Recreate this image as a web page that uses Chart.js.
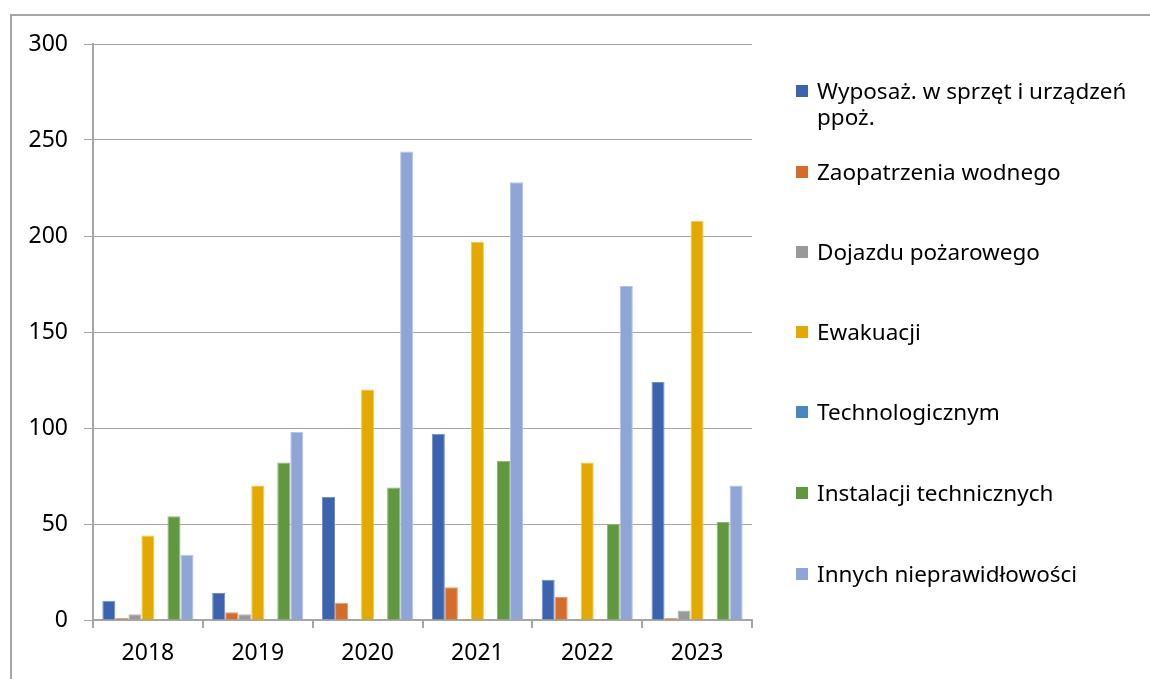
<!DOCTYPE html>
<html>
<head>
<meta charset="utf-8">
<script src="https://cdn.jsdelivr.net/npm/chart.js@4"></script>
<style>
  html, body { margin: 0; padding: 0; background: #fff; }
  #wrap { position: relative; width: 1150px; height: 679px; overflow: hidden; }
  #frame { position: absolute; left: 10px; top: 14px; width: 1200px; height: 700px;
           border-top: 2px solid #a6a6a6; border-left: 2px solid #a6a6a6; }
  #chart { position: absolute; left: 0; top: 0; }
  #legend { position: absolute; left: 796px; top: 0; font-family: "Noto Sans", sans-serif;
            font-size: 22.5px; color: #000; }
  .item { position: absolute; left: 0; white-space: nowrap; line-height: 26px; }
  .box { position: absolute; left: 0; top: 7px; width: 12px; height: 12px; }
  .txt { position: absolute; left: 21px; top: 0; }
</style>
</head>
<body>
<div id="wrap">
  <div id="frame"></div>
  <canvas id="chart" width="1150" height="679"></canvas>
  <div id="legend"></div>
</div>
<script>
const years = ['2018', '2019', '2020', '2021', '2022', '2023'];

const seriesNames = [
    ['Wyposaż. w sprzęt i urządzeń', 'ppoż.'],
    'Zaopatrzenia wodnego',
    'Dojazdu pożarowego',
    'Ewakuacji',
    'Technologicznym',
    'Instalacji technicznych',
    'Innych nieprawidłowości'
];

const wyposazenie = [10, 14, 64, 97, 21, 124];
const zaopatrzenie = [1, 4, 9, 17, 12, 1];
const dojazd = [3, 3, 0, 0, 0, 5];
const ewakuacja = [44, 70, 120, 197, 82, 208];
const technologiczne = [0, 0, 0, 0, 0, 0];
const instalacje = [54, 82, 69, 83, 50, 51];
const inne = [34, 98, 244, 228, 174, 70];

const yTicks = [0, 50, 100, 150, 200, 250, 300];

const colors = ['#3c64ae', '#d46d29', '#999999', '#e3a900', '#4a87c1', '#60983f', '#8fa5d6'];
const borders = ['#6f8fcb', '#eb9a66', '#b8b8b8', '#f2c94d', '#7aa9d6', '#8ab872', '#b3c3e8'];

const values = [wyposazenie, zaopatrzenie, dojazd, ewakuacja, technologiczne, instalacje, inne];

const datasets = values.map((v, i) => ({
    label: Array.isArray(seriesNames[i]) ? seriesNames[i].join(' ') : seriesNames[i],
    data: v,
    backgroundColor: colors[i],
    borderColor: borders[i],
    borderWidth: 1,
    categoryPercentage: 0.83,
    barPercentage: 1.0
}));

const tickFont = { family: 'Noto Sans', size: 23 };

new Chart(document.getElementById('chart'), {
    type: 'bar',
    data: { labels: years, datasets: datasets },
    options: {
        responsive: false,
        animation: false,
        layout: { padding: { top: 44, right: 398, left: 0, bottom: 0 } },
        plugins: { legend: { display: false }, tooltip: { enabled: false } },
        scales: {
            x: {
                offset: true,
                grid: { offset: true, drawOnChartArea: false, color: '#a6a6a6', tickLength: 8, lineWidth: 2 },
                border: { color: '#a6a6a6', width: 2 },
                ticks: { color: '#000', font: tickFont, padding: 12 },
                afterFit: s => { s.height = 59; }
            },
            y: {
                min: 0,
                max: 300,
                afterBuildTicks: s => { s.ticks = yTicks.map(v => ({ value: v })); },
                grid: { color: '#a6a6a6', tickLength: 9, lineWidth: 1 },
                border: { color: '#a6a6a6', width: 2 },
                ticks: { color: '#000', font: tickFont, padding: 16 },
                afterFit: s => { s.width = 93; }
            }
        }
    }
});

// legend on the right, as real text
const legendTops = [78, 159, 239, 319, 399, 480, 561];
const legend = document.getElementById('legend');
seriesNames.forEach((name, i) => {
    const item = document.createElement('div');
    item.className = 'item';
    item.style.top = legendTops[i] + 'px';
    const box = document.createElement('div');
    box.className = 'box';
    box.style.background = colors[i];
    const txt = document.createElement('div');
    txt.className = 'txt';
    txt.innerHTML = Array.isArray(name) ? name.join('<br>') : name;
    item.appendChild(box);
    item.appendChild(txt);
    legend.appendChild(item);
});
</script>
</body>
</html>
